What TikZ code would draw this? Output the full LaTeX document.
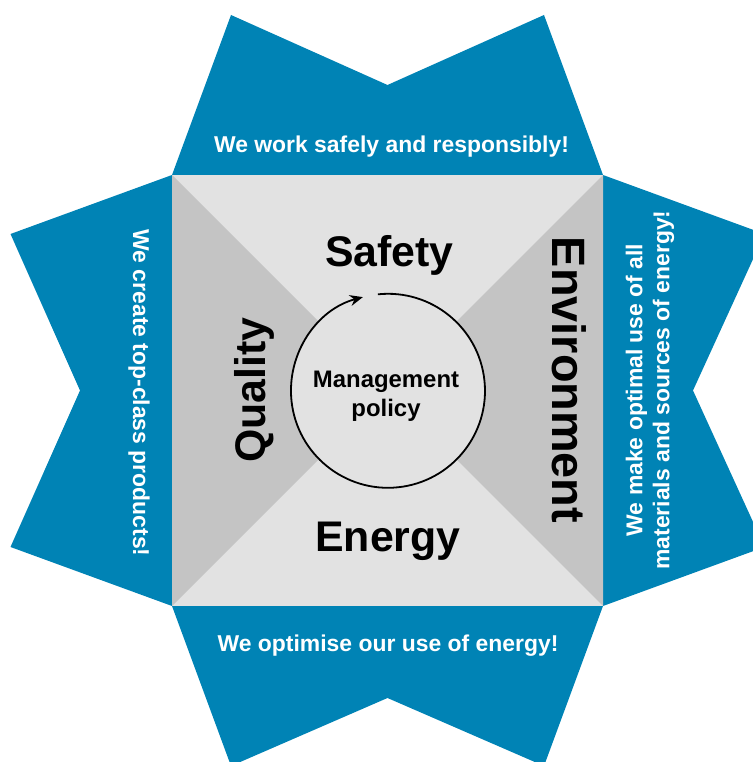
\documentclass[tikz,border=0pt]{standalone}
\usepackage{fontspec}
\setmainfont{Liberation Sans}
\usetikzlibrary{arrows.meta}
\definecolor{starblue}{RGB}{0,131,181}
\definecolor{lightg}{RGB}{226,226,226}
\definecolor{darkg}{RGB}{196,196,196}
\begin{document}
\begin{tikzpicture}[x=1bp,y=1bp,
  bigword/.style={font=\bfseries\fontsize{43}{47}\selectfont, inner sep=0pt},
  bluetext/.style={font=\bfseries\fontsize{23}{27}\selectfont, text=white, inner sep=0pt, align=center},
  policy/.style={circle, fill=lightg, minimum size=194bp, inner sep=0pt},
  policytext/.style={align=center, inner sep=0pt, font=\bfseries\fontsize{24}{28.5}\selectfont},
  cycleline/.style={line width=1.8bp, -{Stealth[length=13bp,width=11bp]}}
]
\useasboundingbox (0,0) rectangle (753,762);
\begin{scope}
\clip (0,0) rectangle (753,762);
\fill[starblue] (172,587) -- (231,747) -- (387.5,677) -- (544,747) -- (603,587)
  -- (764.5,528) -- (693,371.5) -- (764.5,215) -- (603,156)
  -- (544,-4) -- (387.5,64) -- (231,-4) -- (172,156)
  -- (10.5,215) -- (80,371.5) -- (10.5,528) -- cycle;
\end{scope}
\fill[lightg] (172,156) rectangle (603,587);
\coordinate (c) at (387.5,371.5);
\fill[darkg] (172,587) -- (c) -- (172,156) -- cycle;
\fill[darkg] (603,587) -- (c) -- (603,156) -- cycle;
\node[policy] (mp) at (388,371) {};
\node[policytext, anchor=base] (mgmt) at (386,374) {Management};
\node[policytext, anchor=base] (pol) at (386,345.5) {policy};
\draw[cycleline] (mp.96) arc[start angle=96, end angle=-255, radius=97];
\node[bigword, anchor=base] (safety) at (389.5,495) {Safety};
\node[bigword, anchor=base] (energy) at (388,210) {Energy};
\node[bigword, anchor=base, rotate=90] (quality) at (265,372) {Quality};
\node[bigword, anchor=base, rotate=-90, font=\bfseries\fontsize{47}{50}\selectfont] (env) at (552,382) {Environment};
\node[bluetext, anchor=base] (ttop) at (391.5,609) {We work safely and responsibly!};
\node[bluetext, anchor=base] (tbot) at (388,110) {We optimise our use of energy!};
\node[bluetext, anchor=base, rotate=-90] (tleft) at (133,369) {We create top-class products!};
\node[bluetext, rotate=90] (tright) at (650,372) {We make optimal use of all\\materials and sources of energy!};
\end{tikzpicture}
\end{document}
